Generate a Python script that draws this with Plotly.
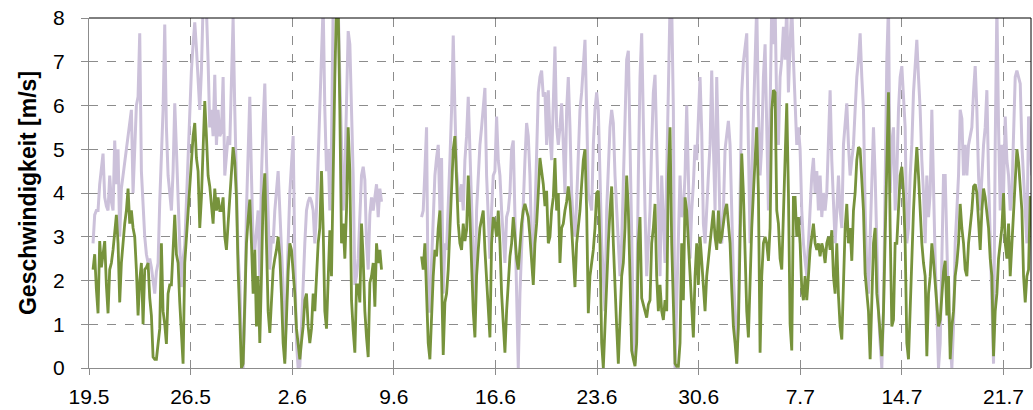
import pandas as pd
import plotly.graph_objects as go

# Readings taken every ~2.76 h (9926 s), starting 18.5.2013 16:53; None = no data.
start = "2013-05-18 16:53"
step = "9926s"

# ---- lavender series (upper line), one list per week-long stretch ----
lav_1 = [None, None, None, None, None,
         2.85, 3.5, 3.6, 3.6, 4.2, 4.6, 4.9, 3.9, 3.7, 3.6, 4.4, 3.8, 3.6, 5.2, 4.2, 5.0,
         3.0, 4.1, 4.4, 4.7, 5.0, 5.4, 5.7, 5.9, 4.0, 5.0, 6.0, 6.2, 7.65, 4.5, 3.6, 3.0,
         2.6, 2.4, 2.5, 2.3, 2.0, 1.7, 2.2, 2.4, 3.8, 5.1, 5.9, 7.85, 5.5, 4.4, 4.0, 3.6,
         4.5, 6.05, 5.0, 3.6, 2.8, 1.85, 2.5, 2.8, 3.8, 5.1, 6.0, 6.8, 7.4, 7.9, 7.3, 6.7]
lav_2 = [5.9, 6.8, 8.3, 8.3, 8.2, 7.0, 5.5, 5.9, 5.3, 6.7, 5.1, 5.9, 5.3, 5.4, 6.65, 4.4,
         4.8, 5.3, 5.1, 6.3, 8.0, 5.9, 4.0, 2.6, 1.95, 0.57, 0.0, 1.3, 3.6, 5.0, 6.2, 4.4,
         2.85, 2.7, 3.2, 3.6, 2.1, 4.4, 5.6, 6.5, 4.75, 3.5, 2.25, 3.0, 2.85, 3.6, 4.0, 4.5,
         3.6, 2.5, 1.85, 0.2, 1.3, 2.85, 4.0, 4.6, 5.3, 2.5, 0.57, 0.0, 0.04, 0.95, 2.1,
         2.85, 3.6, 3.8, 3.9, 3.8, 3.6]
lav_3 = [2.85, 3.6, 4.75, 5.5, 6.65, 8.3, 5.9, 4.5, 5.0, 3.6, 5.1, 8.3, 8.3, 8.3, 8.3,
         6.65, 5.1, 3.6, 4.4, 5.9, 7.7, 7.4, 5.9, 4.4, 1.9, 2.1, 2.5, 3.6, 4.4, 4.6, 4.3,
         2.85, 2.25, 3.5, 3.9, 3.6, 3.9, 4.2, 3.45, 4.1, 3.8,
         None, None, None, None, None, None, None, None, None, None, None, None,
         None, None, None, None, None, None, None, None, None, None, None,
         3.45, 3.6, 4.5, 5.5, 1.3]
lav_4 = [1.3, 2.4, 3.6, 4.4, 4.8, 5.1, 3.6, 4.8, 1.7, 2.85, 2.7, 3.6, 4.75, 5.9, 7.6, 5.9,
         4.5, 4.1, 3.8, 4.2, 3.6, 4.75, 5.3, 6.2, 5.1, 4.0, 2.5, 1.3, 3.6, 4.4, 5.1, 5.5,
         5.9, 6.4, 4.4, 3.45, 2.5, 3.6, 4.4, 4.5, 5.75, 4.75, 4.4, 3.6, 2.85, 2.4, 3.45,
         3.6, 4.0, 5.0, 5.2, 3.6, 1.3, 0.0, 1.7, 2.85, 3.6, 4.75, 5.6, 5.3, 4.4, 2.85, 2.1,
         3.6, 5.1, 6.3, 6.65, 6.8, 6.2]
lav_5 = [6.3, 5.1, 6.35, 5.3, 4.75, 6.05, 7.35, 5.5, 5.1, 5.5, 6.05, 5.1, 4.0, 5.9, 6.65,
         5.5, 4.0, 3.3, 3.0, 3.8, 4.75, 5.9, 6.3, 7.05, 7.5, 5.9, 4.0, 3.8, 3.6, 5.1, 5.9,
         6.3, 5.9, 4.4, 2.85, 2.1, 1.3, 3.6, 4.4, 5.5, 5.9, 5.6, 4.4, 3.6, 2.85, 2.1, 2.85,
         4.4, 5.9, 7.05, 7.25, 5.1, 2.85, 0.95, 0.1, 1.3, 4.4, 6.65, 7.65, 5.1, 3.6, 2.1,
         2.85, 3.6, 5.1, 6.3, 6.7, 5.1, 3.6]
lav_6 = [2.1, 4.4, 3.5, 2.4, 4.4, 6.3, 8.3, 8.3, 5.9, 0.0, 1.3, 2.85, 4.4, 3.45, 3.6, 4.4,
         6.0, 4.4, 2.5, 3.6, 4.2, 5.1, 4.75, 5.7, 6.65, 5.4, 3.3, 2.85, 3.75, 4.4, 5.1, 6.8,
         5.1, 3.6, 6.65, 4.75, 3.3, 2.85, 3.6, 5.0, 5.4, 5.65, 5.1, 3.6, 2.1, 1.3, 0.1, 1.3,
         4.4, 6.3, 7.0, 7.4, 7.65, 5.1, 2.85, 4.4, 5.9, 7.4, 8.3, 5.9, 4.4, 5.1, 6.65, 7.4,
         5.1, 3.6, 5.9, 8.3, 7.4]
lav_7 = [8.3, 5.9, 5.1, 6.65, 7.05, 7.8, 7.05, 8.3, 6.3, 7.4, 8.3, 7.05, 5.9, 5.1, 5.5,
         5.0, 3.6, 2.85, 2.45, 2.1, 2.85, 3.6, 4.4, 4.8, 4.0, 4.5, 3.6, 4.4, 3.45, 4.0, 3.6,
         4.0, 5.1, 6.35, 4.75, 3.6, 2.85, 3.6, 4.4, 3.6, 3.2, 5.1, 5.5, 6.05, 5.1, 4.4,
         4.75, 5.1, 5.9, 6.65, 7.05, 7.65, 6.65, 5.9, 3.6, 2.25, 1.7, 2.85, 4.4, 5.5, 4.4,
         2.5, 1.3, 0.57, 0.0, 1.3, 4.4, 7.05, 8.3]
lav_8 = [4.0, 5.1, 5.5, 3.6, 4.4, 5.9, 6.65, 6.9, 6.2, 5.5, 2.85, 3.2, 4.4, 5.1, 6.3, 7.05,
         7.5, 6.65, 5.9, 4.75, 4.0, 2.85, 4.4, 3.45, 4.0, 5.9, 4.0, 2.45, 1.3, 0.0, 0.57,
         2.85, 4.4, 4.4, 2.85, 1.3, 0.57, 0.0, 0.95, 2.85, 3.6, 4.4, 5.9, 5.7, 4.4, 5.1,
         4.4, 5.1, 5.3, 5.5, 6.3, 6.9, 5.9, 4.4, 3.6, 4.4, 5.1, 5.5, 6.35, 4.4, 2.85, 1.3,
         0.1, 5.1, 8.3, 5.5, 3.6, 5.1, 4.0, 5.75, 4.75, 4.4, 3.6, 4.0, 5.1, 6.65, 6.8, 6.65,
         6.5, 5.1, 4.4, 3.6, 2.85, 5.75, 5.1, 4.4]

# ---- olive series (lower line) ----
olv_1 = [None, None, None, None, None,
         2.25, 2.6, 1.8, 1.25, 2.9, 2.3, 2.6, 2.9, 1.9, 1.25, 2.25, 2.4, 2.7, 3.2, 3.5, 2.85,
         1.5, 2.4, 2.9, 3.3, 3.6, 4.1, 3.3, 3.6, 3.2, 3.0, 2.25, 1.2, 2.0, 2.4, 1.0, 2.25,
         2.3, 2.4, 1.6, 1.2, 0.25, 0.2, 0.2, 0.5, 0.9, 2.85, 1.3, 1.0, 0.55, 1.7, 1.9, 1.9,
         2.6, 3.5, 2.6, 2.4, 1.5, 0.9, 0.1, 2.4, 3.0, 3.6, 4.2, 4.75, 5.3, 5.6, 4.8, 4.5]
olv_2 = [3.2, 3.9, 5.0, 6.1, 5.3, 4.4, 4.15, 3.7, 3.3, 4.1, 3.6, 3.9, 3.6, 3.6, 3.9, 3.0,
         2.7, 3.3, 3.9, 4.4, 5.05, 4.7, 3.9, 2.25, 0.95, 0.0, 0.1, 1.3, 2.85, 3.4, 3.85,
         2.85, 1.7, 2.7, 0.95, 2.1, 0.57, 2.1, 3.9, 4.45, 2.5, 1.3, 0.8, 1.7, 2.25, 2.5, 2.7,
         3.0, 2.55, 1.65, 0.57, 0.1, 1.3, 2.2, 2.85, 2.7, 2.2, 1.7, 0.9, 0.5, 0.2, 0.6, 0.95,
         1.55, 1.7, 0.95, 0.57, 0.9, 1.7]
olv_3 = [1.3, 2.1, 2.85, 3.2, 4.5, 3.2, 1.3, 0.9, 2.25, 3.15, 2.1, 5.0, 6.65, 8.3, 8.3,
         5.9, 2.85, 3.3, 2.5, 3.6, 5.5, 4.5, 1.55, 0.87, 0.35, 1.9, 1.9, 1.5, 3.3, 2.5, 1.3,
         0.7, 0.25, 1.95, 2.1, 2.4, 1.4, 2.85, 2.4, 2.7, 2.25,
         None, None, None, None, None, None, None, None, None, None, None, None,
         None, None, None, None, None, None, None, None, None, None, None,
         2.55, 2.25, 2.85, 1.7, 0.57]
olv_4 = [0.2, 1.3, 2.1, 2.7, 2.55, 3.2, 3.6, 2.1, 0.3, 1.5, 1.7, 2.25, 3.2, 4.4, 5.0, 5.3,
         4.4, 3.3, 2.85, 2.7, 3.3, 2.9, 3.15, 4.4, 3.45, 2.1, 1.3, 0.7, 2.1, 2.7, 3.2, 3.4,
         3.6, 2.7, 2.1, 1.3, 0.7, 2.85, 3.45, 3.3, 3.0, 3.6, 2.85, 1.7, 0.9, 0.35, 1.3, 2.1,
         2.55, 2.85, 3.45, 3.0, 2.5, 2.25, 2.85, 3.3, 3.6, 3.75, 3.6, 3.45, 3.0, 2.4, 1.9,
         2.85, 3.3, 4.0, 4.8, 4.5, 4.2]
olv_5 = [3.7, 4.05, 2.85, 3.0, 3.6, 3.9, 4.8, 3.6, 4.0, 2.4, 3.2, 3.3, 3.6, 3.8, 4.15, 3.8,
         3.2, 2.5, 1.85, 2.85, 3.2, 3.6, 4.2, 4.75, 5.0, 3.6, 1.25, 2.1, 2.4, 2.7, 3.2, 4.0,
         4.05, 2.85, 0.57, 0.0, 0.95, 2.1, 2.85, 3.6, 4.15, 2.85, 1.7, 0.95, 0.1, 1.3, 2.1,
         2.4, 3.2, 4.4, 3.6, 2.1, 0.4, 0.2, 0.04, 0.57, 2.85, 3.45, 1.6, 1.45, 1.3, 1.15,
         1.45, 1.55, 2.85, 3.2, 3.75, 2.1, 1.3]
olv_6 = [1.9, 1.3, 1.1, 1.55, 1.3, 4.4, 5.5, 2.85, 1.15, 0.1, 0.04, 0.04, 0.57, 2.85, 1.55,
         3.9, 3.6, 2.85, 2.1, 1.3, 0.7, 2.1, 2.85, 1.9, 3.0, 2.45, 1.8, 1.3, 2.1, 2.5, 2.85,
         3.2, 3.6, 3.0, 2.7, 3.6, 2.85, 3.0, 3.3, 3.6, 3.75, 3.3, 2.85, 1.8, 0.95, 0.57, 0.1,
         0.95, 3.2, 4.9, 4.0, 2.85, 1.3, 0.7, 2.1, 3.2, 4.0, 4.75, 5.5, 4.0, 0.35, 2.1, 2.85,
         3.0, 2.85, 2.45, 3.2, 5.9, 6.35]
olv_7 = [6.3, 3.6, 3.3, 2.5, 2.25, 3.6, 5.15, 6.05, 4.0, 1.0, 0.4, 3.9, 3.9, 3.0, 3.45,
         2.85, 1.8, 1.55, 2.1, 1.55, 2.1, 2.7, 3.0, 3.3, 2.85, 2.7, 2.85, 2.55, 2.85, 2.7,
         2.4, 2.85, 3.0, 2.7, 3.15, 2.1, 1.7, 2.85, 1.65, 0.95, 0.65, 2.1, 3.2, 3.75, 2.85,
         3.2, 2.45, 3.6, 4.0, 4.75, 5.05, 5.0, 4.4, 3.6, 2.15, 1.7, 1.3, 0.2, 1.3, 2.85, 3.2,
         1.7, 1.3, 0.7, 0.27, 1.3, 2.85, 4.4, 6.3]
olv_8 = [3.2, 0.95, 1.1, 2.85, 2.85, 3.6, 4.4, 4.6, 4.0, 2.85, 0.57, 0.2, 1.3, 2.7, 3.6,
         4.4, 5.05, 4.4, 3.6, 2.85, 2.4, 2.1, 0.27, 1.7, 2.1, 2.85, 2.45, 1.95, 1.3, 0.95,
         1.1, 1.7, 2.2, 2.45, 1.2, 2.1, 0.2, 0.95, 1.3, 2.1, 2.4, 2.85, 3.75, 3.2, 2.85,
         2.25, 2.1, 2.85, 3.2, 3.6, 4.15, 4.2, 4.0, 3.2, 2.7, 3.6, 4.1, 3.9, 3.6, 3.2, 2.5,
         2.1, 0.27, 1.3, 1.7, 2.5, 2.85, 3.2, 4.0, 2.85, 2.5, 3.3, 2.1, 2.85, 3.6, 4.4, 5.0,
         4.7, 4.1, 3.6, 2.1, 1.5, 2.1, 2.25, 3.9, 3.9]

y_ticks = [0, 1, 2, 3, 4, 5, 6, 7, 8]
y_title = "Geschwindigkeit [m/s]"

lavender = lav_1 + lav_2 + lav_3 + lav_4 + lav_5 + lav_6 + lav_7 + lav_8
olive = olv_1 + olv_2 + olv_3 + olv_4 + olv_5 + olv_6 + olv_7 + olv_8
n = min(len(lavender), len(olive))
times = pd.date_range(start, periods=n, freq=step)

fig = go.Figure()
fig.add_trace(go.Scatter(x=times, y=lavender[:n], mode="lines",
                         line=dict(color="#CCC1DA", width=3.0),
                         connectgaps=False, showlegend=False))
fig.add_trace(go.Scatter(x=times, y=olive[:n], mode="lines",
                         line=dict(color="#77933C", width=2.8),
                         connectgaps=False, showlegend=False))

font = "Liberation Sans, Arial, sans-serif"
fig.update_layout(
    width=1033, height=410,
    margin=dict(l=89, r=2, t=18, b=42),
    paper_bgcolor="white", plot_bgcolor="white",
    font=dict(family=font, size=21, color="black"),
    showlegend=False,
)
fig.update_xaxes(
    type="date",
    range=["2013-05-19 00:00", "2013-07-22 21:30"],
    tick0="2013-05-19", dtick=7 * 86400000,
    tickformat="%-d.%-m",
    showgrid=True, gridcolor="#8c8c8c", griddash="dash", gridwidth=1,
    showline=True, linecolor="#8c8c8c", linewidth=1,
    ticks="outside", ticklen=6, tickcolor="#8c8c8c",
    ticklabelstandoff=4,
    zeroline=False,
)
fig.update_yaxes(
    range=[0, 8], tickvals=y_ticks,
    showgrid=True, gridcolor="#8c8c8c", griddash="dash", gridwidth=1,
    showline=True, linecolor="#8c8c8c", linewidth=1,
    ticks="outside", ticklen=7, tickcolor="#8c8c8c",
    ticklabelstandoff=12,
    zeroline=False,
    title=dict(text="<b>" + y_title + "</b>", font=dict(size=23), standoff=10),
)
fig.add_shape(type="line", xref="paper", yref="paper", x0=0, x1=1, y0=1, y1=1,
              line=dict(color="black", width=1), layer="above")
fig.add_shape(type="line", xref="paper", yref="paper", x0=1, x1=1, y0=0, y1=1,
              line=dict(color="black", width=1), layer="above")

fig.write_html("out.html")
